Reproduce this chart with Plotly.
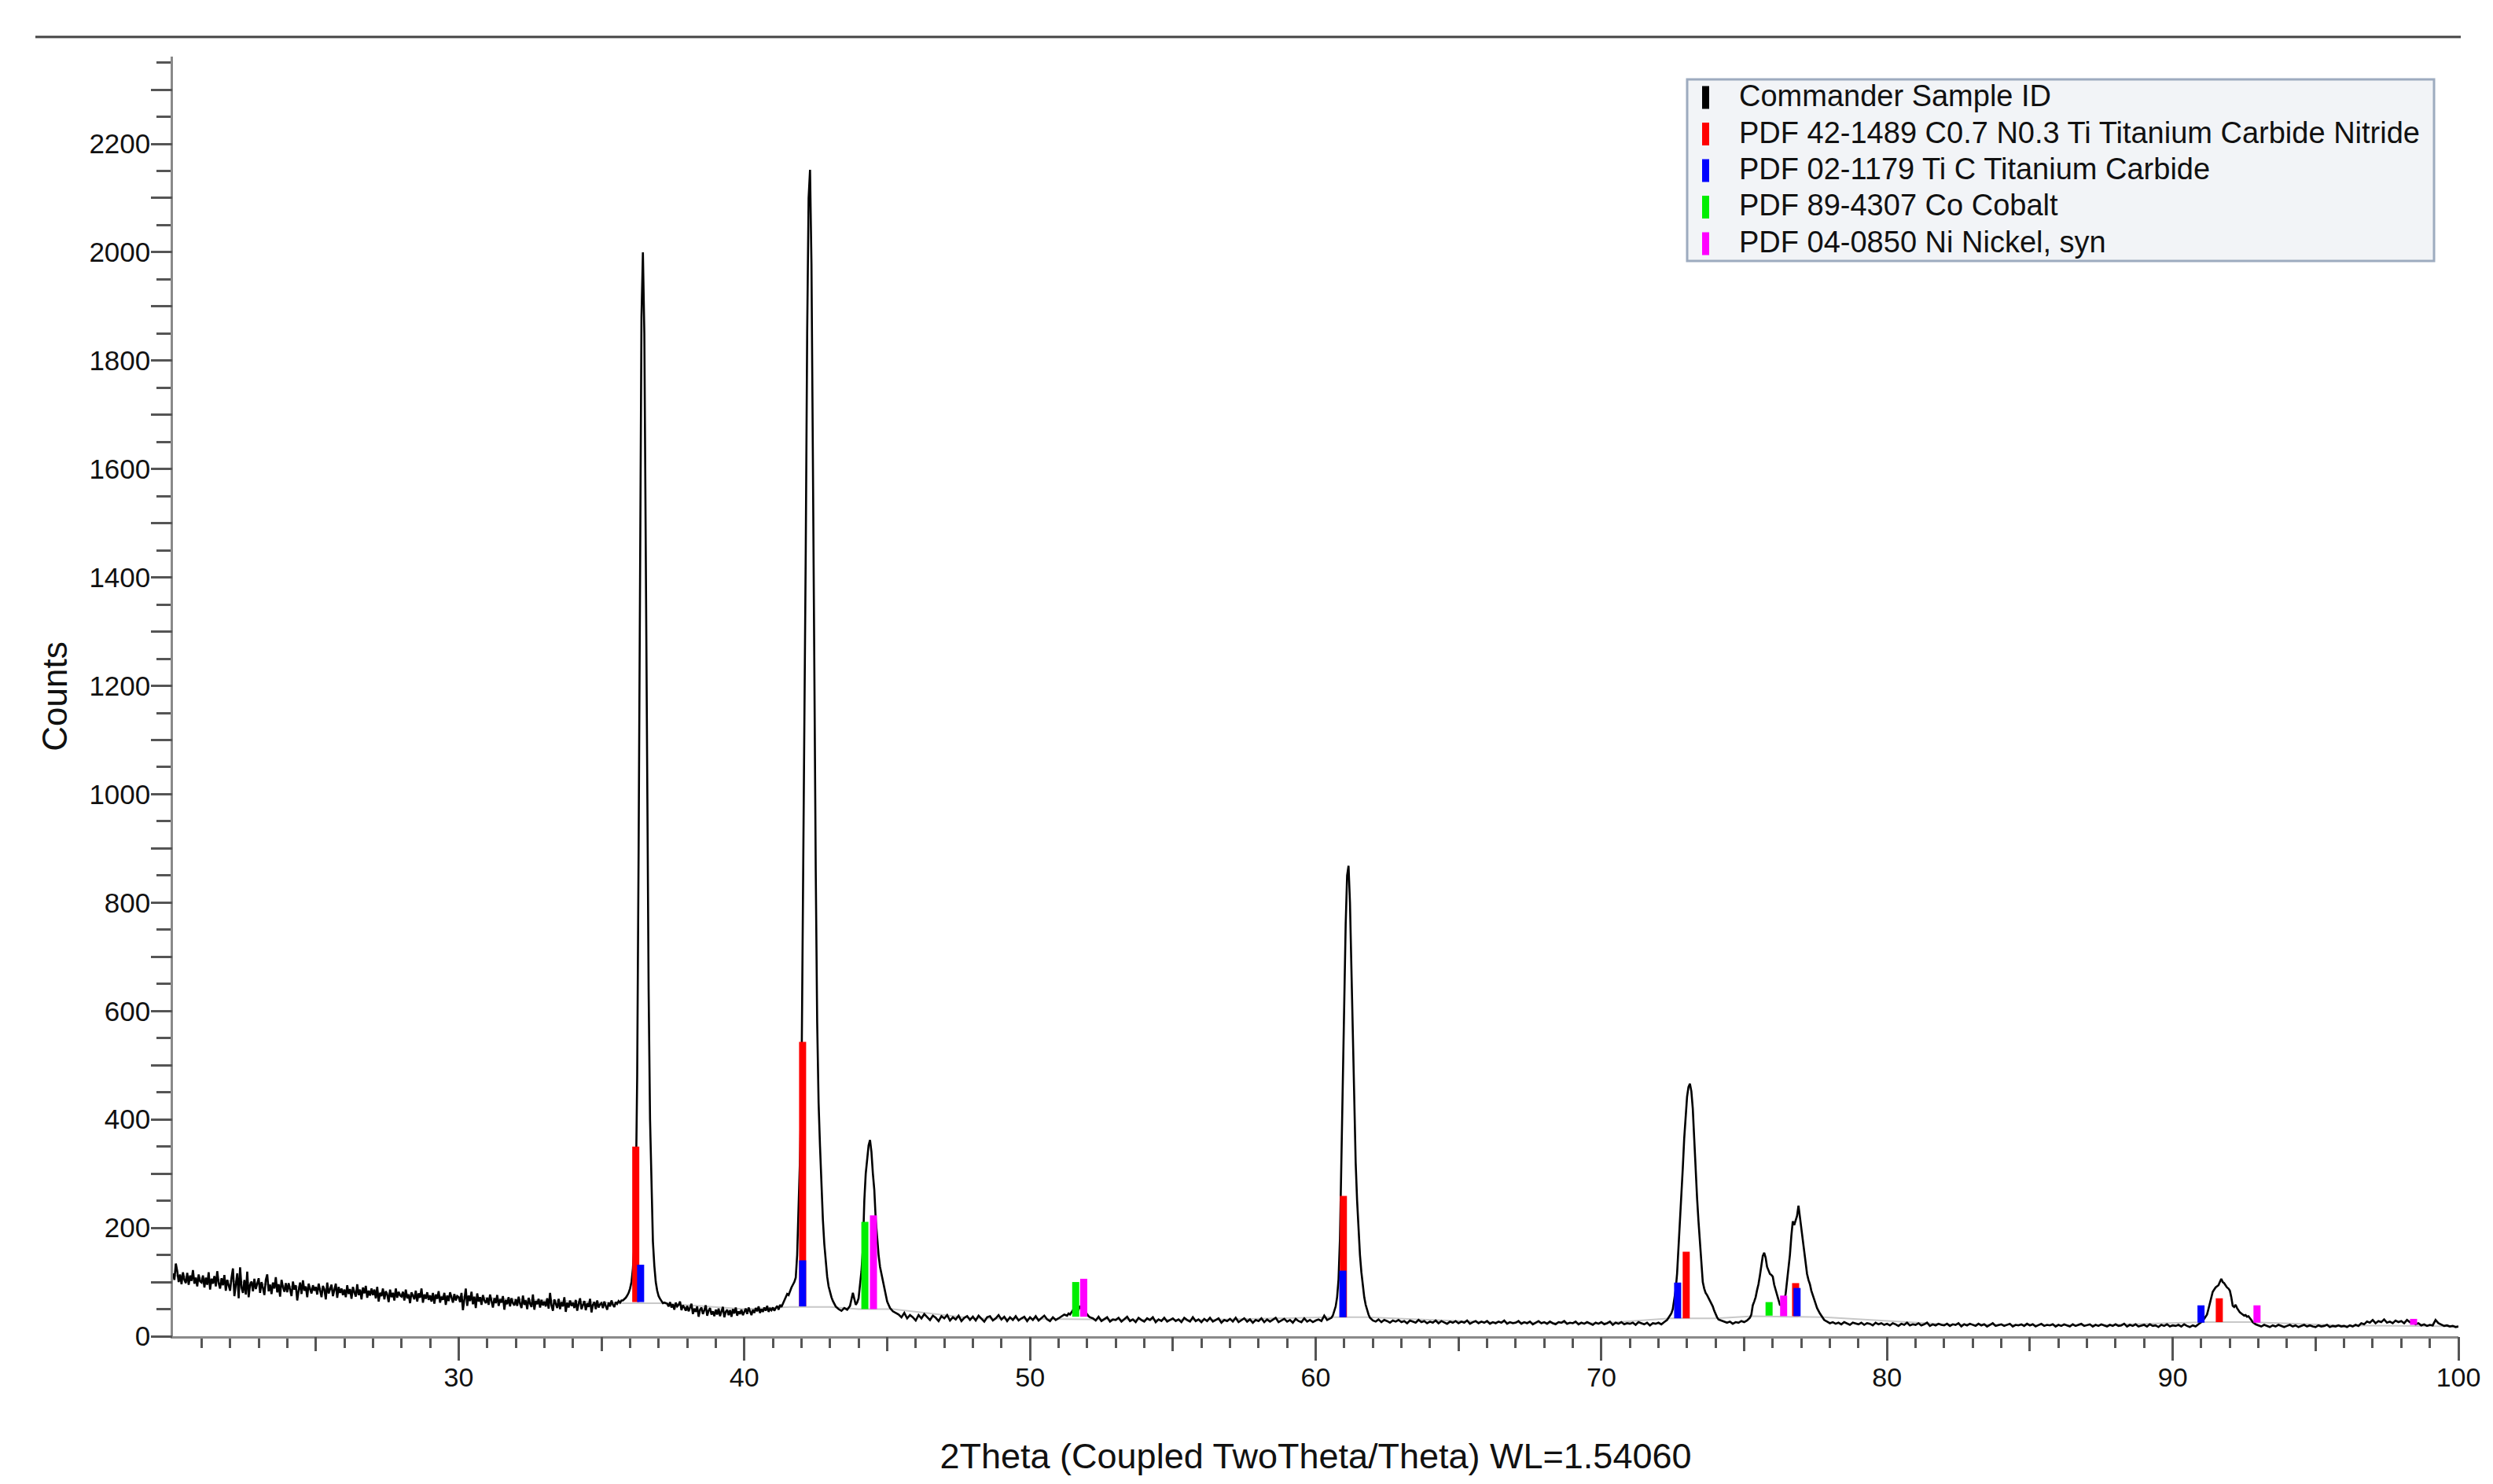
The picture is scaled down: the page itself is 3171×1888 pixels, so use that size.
import numpy as np
import plotly.graph_objects as go

# ---------------- measured scan: (start 2θ, end 2θ, counts) ----------------
counts_20_35 = [
    116, 104, 134, 120, 100, 114, 96, 118, 104, 98, 117, 95, 112, 102, 122, 97, 108, 92, 114, 101,
    99, 112, 90, 108, 95, 118, 86, 106, 97, 111, 92, 120, 98, 88, 107, 94, 113, 84, 104, 93,
    84, 108, 125, 74, 96, 116, 70, 127, 90, 80, 104, 77, 119, 72, 95, 101, 83, 106, 87, 97,
    107, 80, 100, 89, 76, 104, 114, 83, 95, 78, 99, 88, 109, 81, 96, 73, 104, 91, 82, 98,
    81, 98, 88, 74, 101, 86, 94, 66, 85, 99, 78, 103, 84, 92, 72, 97, 87, 79, 94, 84,
    91, 77, 97, 82, 72, 93, 86, 68, 99, 79, 89, 95, 74, 85, 97, 71, 91, 80, 88, 76,
    86, 72, 94, 78, 87, 69, 91, 81, 73, 96, 76, 86, 68, 90, 79, 93, 71, 84, 75, 88,
    76, 86, 70, 91, 64, 80, 74, 88, 68, 83, 77, 63, 86, 72, 80, 66, 88, 71, 82, 75,
    73, 82, 66, 86, 70, 77, 61, 81, 75, 68, 84, 64, 79, 71, 88, 62, 77, 69, 81, 67,
    75, 64, 80, 60, 77, 69, 83, 62, 73, 67, 80, 58, 75, 65, 81, 70, 62, 78, 66, 74,
    72, 63, 80, 48, 69, 88, 56, 75, 65, 82, 59, 73, 52, 79, 64, 72, 58, 76, 66, 61,
    71, 58, 77, 64, 53, 70, 61, 76, 56, 68, 62, 74, 49, 67, 59, 72, 55, 70, 61, 57,
    68, 56, 73, 60, 52, 75, 58, 66, 50, 71, 60, 54, 77, 49, 65, 59, 69, 53, 67, 57,
    64, 55, 70, 51, 80, 57, 47, 68, 58, 52, 69, 50, 63, 55, 72, 45, 62, 53, 66, 56,
    62, 52, 67, 47, 60, 70, 50, 59, 65, 48, 61, 54, 69, 44, 58, 63, 50, 66, 53, 59,
    61, 52, 64, 56, 49, 62, 55, 66, 58, 54, 63, 60, 65, 62, 66]
counts_36 = [66, 68, 71, 75, 80, 88, 100, 125, 170, 260, 480, 900, 1450, 1880, 2000,
             1850, 1450, 1000, 640, 400, 260, 175, 130, 100, 84, 74, 69, 64, 61, 62]
counts_37_41 = [60, 55, 63, 53, 59, 49, 62, 55, 58, 64, 48, 57, 53, 47,
                56, 46, 53, 60, 41, 51, 45, 55, 36, 49, 53, 41, 48, 57, 38, 47, 52, 40, 46, 37,
                49, 40, 51, 37, 46, 54, 35, 45, 49, 39, 48, 36, 50, 42, 53, 38, 46, 41, 49, 39,
                45, 51, 41, 53, 46, 39, 49, 43, 52, 46, 55, 43, 50, 45, 53, 47, 56, 45, 51, 48,
                53, 47, 52, 56, 49, 58, 54, 60, 64]
counts_42 = [70, 78, 76, 84, 90, 95, 100, 108, 150, 240, 330, 460, 750, 1100, 1450,
             1850, 2100, 2152, 1980, 1620, 1200, 860, 580, 430, 350, 275, 215, 170, 136, 110,
             92, 80, 72, 65, 60]
counts_43 = [55, 50, 47, 52, 49, 56, 80, 58]
counts_44 = [62, 70, 95, 120, 160, 250, 300, 330, 352, 362, 340, 300, 270, 215, 180,
             150, 128, 115, 98, 85, 75, 64, 58, 52]
counts_45_51 = [46, 43, 40, 35, 43, 33, 39, 35,
                29, 39, 33, 41, 35, 30, 38, 34, 28, 37,
                33, 39, 29, 35, 31, 38, 28, 34, 37, 30,
                36, 29, 38, 33, 27, 35, 37, 29, 33, 39,
                31, 36, 28, 35, 30, 37, 29, 33, 36, 28,
                35, 30, 37, 29, 33, 38, 31, 28, 35, 30,
                33, 36, 40, 38]
counts_52 = [42, 40, 44, 48, 52, 50, 46, 49, 56, 50, 58, 48, 44, 40, 37, 35]
counts_52_60 = [33, 29, 36, 28, 32, 35, 27, 31,
                30, 34, 27, 32, 36, 28, 31, 26, 34, 30,
                27, 33, 30, 35, 26, 31, 28, 34, 27, 30,
                33, 28, 31, 26, 34, 30, 27, 35, 28, 31,
                26, 32, 28, 34, 27, 30, 33, 25, 30, 28,
                32, 27, 34, 26, 30, 33, 27, 31, 25, 30,
                28, 33, 26, 31, 27, 30, 34, 26, 29, 32,
                27, 30, 25, 32, 28, 26, 33, 27, 30, 26,
                29, 31, 28, 38, 30, 33]
counts_61 = [34, 38, 45, 55, 72, 105, 180, 330, 500, 640, 760, 850, 868, 800, 670,
             530, 410, 320, 250, 195, 150, 118, 92, 72, 58, 47, 40, 34, 31]
counts_62_72 = [29, 27, 31, 26, 30, 28, 25, 29, 27, 30,
                26, 28, 24, 29, 27, 25, 30, 26, 28, 24,
                27, 25, 29, 24, 28, 26, 23, 27, 25, 28,
                24, 27, 25, 29, 23, 26, 28, 24, 27, 25,
                28, 23, 26, 24, 27, 25, 29, 23, 26, 24,
                25, 28, 23, 26, 24, 27, 22, 25, 28, 24,
                26, 23, 27, 24, 22, 26, 25, 28, 23, 25,
                24, 27, 22, 25, 23, 26, 24, 21, 25, 23,
                26, 22, 24, 27, 21, 25, 23, 26, 22, 24,
                23, 25, 21, 26, 24, 22, 25, 20, 24, 23,
                25, 22, 26, 30, 38]
counts_73 = [42, 50, 65, 85, 115, 160, 205, 255, 310, 365, 410, 442, 460, 466, 452,
             420, 365, 305, 255, 212, 170, 128, 100, 88, 80, 76, 71, 65, 60, 55,
             47, 40, 35, 31]
counts_74_75 = [29, 27, 25, 27, 23, 26, 25, 28, 26, 29, 34]
counts_76_77 = [40, 57, 64, 72, 85, 96, 112, 130, 148, 154, 145, 128, 120, 115, 113,
                110, 95, 85, 76, 66, 58, 57, 62, 66, 78, 100, 128, 150, 185, 212,
                205, 212, 222, 241, 220, 193, 172, 150, 133, 115, 104, 96, 84, 75, 68,
                60, 52, 46, 42, 38]
counts_78_91 = [30, 27,
                24, 26, 23, 25, 22, 26, 24, 21, 25, 23,
                22, 25, 21, 24, 23, 20, 25, 22, 24, 21,
                23, 20, 24, 22, 19, 23, 21, 25, 20, 22,
                21, 24, 20, 22, 25, 19, 22, 20, 23, 21,
                20, 23, 19, 22, 21, 24, 18, 22, 20, 23,
                21, 19, 23, 20, 22, 18, 21, 24, 19, 21,
                22, 19, 21, 23, 18, 21, 20, 22, 19, 23,
                20, 22, 18, 21, 23, 19, 21, 20, 22, 18,
                21, 19, 22, 20, 18, 22, 19, 21, 23, 19,
                20, 22, 18, 21, 19, 22, 20, 18, 21, 19,
                22, 19, 20, 23, 18, 21, 19, 22, 18, 20,
                21, 18, 22, 19, 20, 17, 21, 19, 22, 18,
                20, 19, 21, 18, 22, 19, 17, 20, 18, 22,
                26, 32]
counts_92 = [36, 40, 50, 62, 74, 82, 86, 90, 92, 94, 100, 106, 100, 98, 94,
             90, 88, 84, 72, 56, 54, 58, 52, 48, 44, 42, 40, 38, 39, 36,
             37, 34, 30, 26, 24, 22]
counts_93_100 = [20, 18, 21, 19, 17, 20, 18, 21, 19, 17,
                 19, 21, 18, 20, 17, 19, 21, 18, 20, 18,
                 17, 20, 18, 19, 21, 17, 19, 18, 20, 18,
                 19, 17, 20, 18, 21, 19, 24, 22, 27, 25,
                 30, 24, 28, 26, 31, 25, 27, 24, 29, 26,
                 28, 24, 30, 26, 27, 22, 24, 20, 22, 19,
                 21, 20, 30, 24, 21, 19, 20, 18, 19, 17,
                 18]

scan_segments = [
    (20.00, 35.70, counts_20_35), (35.75, 37.20, counts_36), (37.30, 41.40, counts_37_41),
    (41.45, 43.15, counts_42), (43.20, 43.90, counts_43), (43.95, 45.10, counts_44),
    (45.20, 51.30, counts_45_51), (51.35, 52.10, counts_52), (52.20, 60.50, counts_52_60),
    (60.55, 61.95, counts_61), (62.00, 72.40, counts_62_72), (72.45, 74.10, counts_73),
    (74.20, 75.20, counts_74_75), (75.25, 77.70, counts_76_77), (77.80, 91.10, counts_78_91),
    (91.15, 92.90, counts_92), (93.00, 100.00, counts_93_100),
]

# fitted background (light grey)
bkg_theta = [20, 24, 28, 32, 35.8, 37.1, 40, 41.6, 43.0, 44.0, 45.2, 48, 52, 56, 60.5, 61.8,
             66, 70, 72.4, 74.0, 75.3, 77.8, 82, 87, 91.2, 92.7, 96, 100]
bkg_counts = [112, 92, 78, 68, 61, 61, 50, 54, 54, 50, 50, 33, 31, 30, 35, 35,
              26, 24, 33, 33, 37, 35, 22, 20, 26, 26, 20, 18]

# reference pattern sticks: position, top, base
ticn_pos = [36.20, 42.04, 60.97, 72.97, 76.80, 91.63]
ticn_top = [350, 543, 259, 156, 98, 70]
ticn_base = [63, 55, 35, 33, 37, 26]
tic_pos = [36.37, 42.04, 60.95, 72.67, 76.85, 90.99]
tic_top = [132, 140, 121, 99, 89, 57]
tic_base = [63, 55, 35, 33, 37, 25]
co_pos = [44.22, 51.60, 75.87]
co_top = [211, 100, 63]
co_base = [50, 36, 38]
ni_pos = [44.52, 51.88, 76.38, 92.95, 98.43]
ni_top = [223, 106, 75, 57, 32]
ni_base = [50, 36, 37, 25, 21]

legend_names = ["Commander Sample ID",
                "PDF 42-1489 C0.7 N0.3 Ti Titanium Carbide Nitride",
                "PDF 02-1179 Ti C Titanium Carbide",
                "PDF 89-4307 Co Cobalt",
                "PDF 04-0850 Ni Nickel, syn"]
x_major = [30, 40, 50, 60, 70, 80, 90, 100]
x_mid = [25, 35, 45, 55, 65, 75, 85, 95]
x_minor = list(range(21, 100))
y_labeled = list(range(0, 2201, 200))
y_hundreds = list(range(0, 2301, 100))
y_minor = list(range(50, 2361, 100))

# ---------------- build ----------------
two_theta, counts = [], []
for s, e, c in scan_segments:
    two_theta.extend(np.linspace(s, e, len(c)).tolist())
    counts.extend(c)


def sticks(pos, top, base):
    xs, ys = [], []
    for p, t, b in zip(pos, top, base):
        xs += [p, p, None]
        ys += [b, t, None]
    return xs, ys


FONT = "Liberation Sans, Arial, Helvetica, sans-serif"
colors = ["#000000", "#ff0000", "#0000ff", "#00ee00", "#ff00ff"]

fig = go.Figure()
fig.add_trace(go.Scatter(x=bkg_theta, y=bkg_counts, mode="lines",
                         line=dict(color="#c8c8c8", width=2), showlegend=False, hoverinfo="skip"))
fig.add_trace(go.Scatter(x=two_theta, y=counts, mode="lines", name=legend_names[0],
                         line=dict(color="black", width=2.6), showlegend=False))
for (p, t, b), col, nm in zip([(ticn_pos, ticn_top, ticn_base), (tic_pos, tic_top, tic_base),
                               (co_pos, co_top, co_base), (ni_pos, ni_top, ni_base)],
                              colors[1:], legend_names[1:]):
    xs, ys = sticks(p, t, b)
    fig.add_trace(go.Scatter(x=xs, y=ys, mode="lines", name=nm, line=dict(color=col, width=9),
                             showlegend=False, hoverinfo="skip"))
# helper axes for longer tick marks
fig.add_trace(go.Scatter(x=[None], y=[None], xaxis="x2", yaxis="y2", showlegend=False, hoverinfo="skip"))

# ---- legend box drawn in page pixels (plot area: x 220..3127, y 1700..72) ----
def px(xp):
    return (xp - 220) / 2907.0


def py(yp):
    return (1700 - yp) / 1628.0


shapes = [dict(type="line", xref="paper", yref="paper", x0=px(45), x1=px(3130), y0=py(47), y1=py(47),
               line=dict(color="#444444", width=3)),
          dict(type="rect", xref="paper", yref="paper", x0=px(2146), x1=px(3096), y0=py(332), y1=py(101),
               fillcolor="#f2f4f7", line=dict(color="#9dabbf", width=3), layer="above")]
annotations = []
row_y = [122, 168.5, 215, 261.5, 308]
for name, col, ry in zip(legend_names, colors, row_y):
    shapes.append(dict(type="rect", xref="paper", yref="paper", x0=px(2165), x1=px(2174),
                       y0=py(ry + 16.5), y1=py(ry - 12.5), fillcolor=col, line=dict(width=0),
                       layer="above"))
    annotations.append(dict(text=name, xref="paper", yref="paper", x=px(2210), y=py(ry),
                            xanchor="left", yanchor="middle", showarrow=False,
                            font=dict(family=FONT, size=38, color="#111111")))

tickstyle = dict(ticks="outside", tickwidth=2.5, tickcolor="#555555")
minorstyle = dict(ticks="outside", tickwidth=2.5, tickcolor="#555555", showgrid=False, tickmode="array")
fig.update_layout(
    width=3163, height=1880,
    margin=dict(l=212, r=44, t=64, b=188),
    paper_bgcolor="white", plot_bgcolor="white",
    font=dict(family=FONT, size=34, color="#111111"),
    showlegend=False,
    xaxis=dict(range=[20, 100], tickmode="array", tickvals=x_major, ticklen=20, **tickstyle,
               tickfont=dict(size=34),
               showline=True, linecolor="#8a8a8a", linewidth=2.5, showgrid=False, zeroline=False,
               minor=dict(tickvals=x_minor, ticklen=12, **minorstyle),
               title=dict(text="2Theta (Coupled TwoTheta/Theta) WL=1.54060",
                          font=dict(family=FONT, size=45), standoff=67)),
    xaxis2=dict(range=[20, 100], overlaying="x", anchor="y", side="bottom", tickmode="array",
                tickvals=x_major, ticklen=30, **tickstyle, showticklabels=False, showline=False,
                showgrid=False, zeroline=False,
                minor=dict(tickvals=x_mid, ticklen=18, **minorstyle)),
    yaxis=dict(range=[0, 2361], tickmode="array", tickvals=y_labeled, ticklen=19, **tickstyle,
               tickfont=dict(size=35),
               showline=True, linecolor="#8a8a8a", linewidth=2.5, showgrid=False, zeroline=False,
               minor=dict(tickvals=y_minor, ticklen=18, **minorstyle),
               title=dict(text="Counts", font=dict(family=FONT, size=44), standoff=14)),
    yaxis2=dict(range=[0, 2361], overlaying="y", anchor="x", side="left", tickmode="array",
                tickvals=y_hundreds, ticklen=27, **tickstyle, showticklabels=False, showline=False,
                showgrid=False, zeroline=False),
    shapes=shapes,
    annotations=annotations,
)

fig.write_html("out.html")
